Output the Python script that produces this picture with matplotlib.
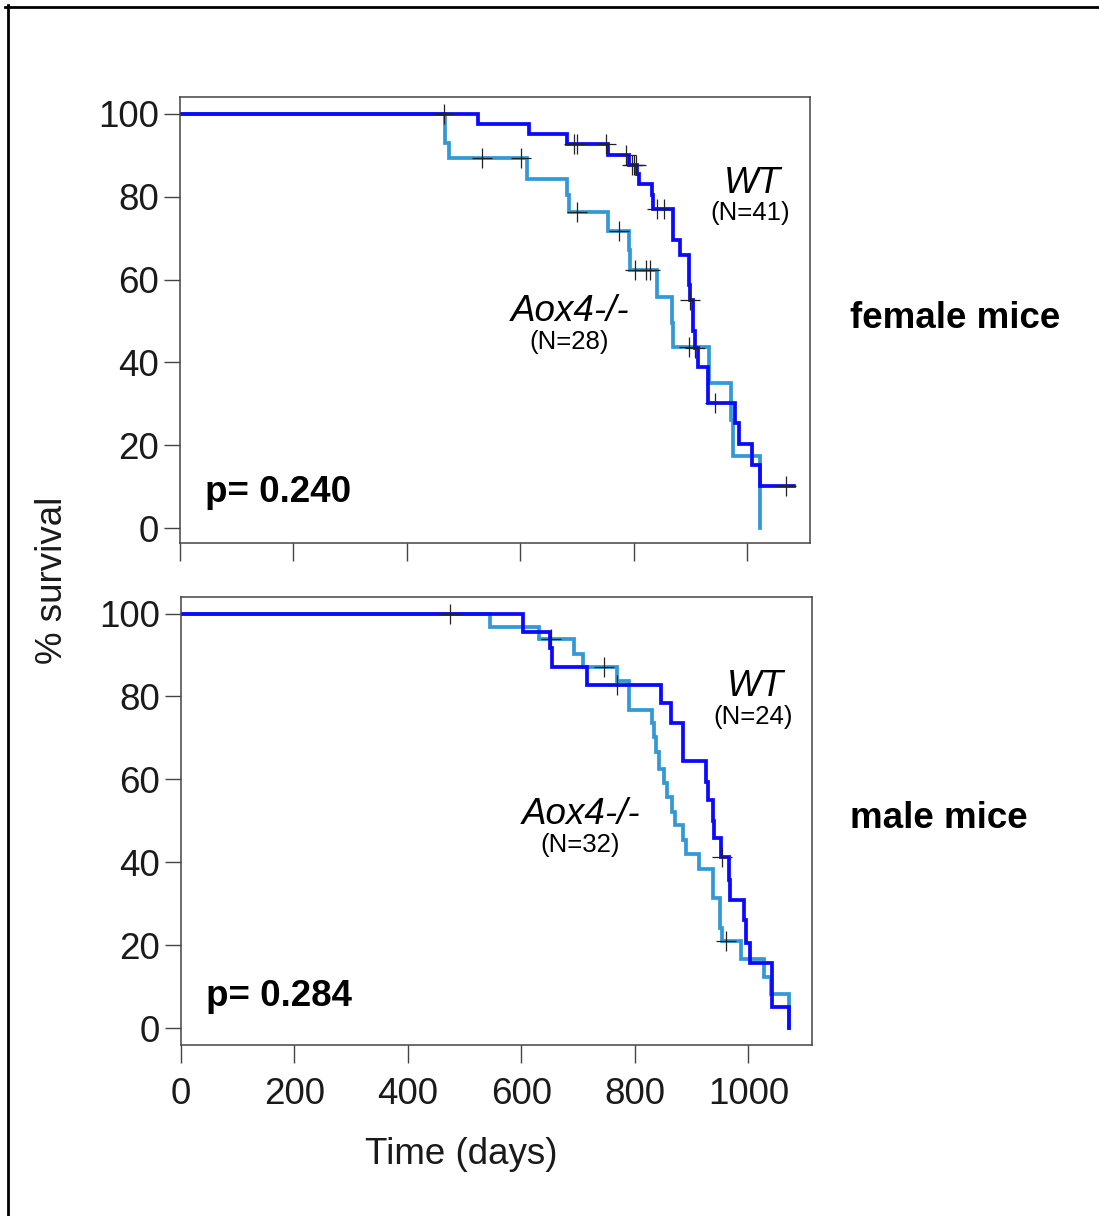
import numpy as np
import matplotlib
matplotlib.use("Agg")
import matplotlib.pyplot as plt
from matplotlib.lines import Line2D

plt.rcParams['font.family'] = ['Liberation Sans', 'DejaVu Sans']

# Kaplan-Meier steps: (time in days, % survival after the step)
# female mice
f_wt_t = [0, 526, 615, 683, 755, 792, 806, 810, 832, 835, 870, 882, 897, 899, 905, 909, 913, 932, 979, 985, 1008, 1022, 1083]
f_wt_s = [100, 97.6, 95.1, 92.7, 90.2, 87.6, 85.4, 83.2, 80.5, 77.0, 69.6, 65.9, 58.7, 55.1, 47.5, 43.6, 39.0, 30.3, 25.3, 20.2, 15.2, 10.2, 10.2]
f_wt_cens = [466, 695, 700, 751, 787, 797, 801, 804, 841, 854, 899, 909, 944, 1069]

f_ko_t = [0, 467, 475, 612, 683, 686, 755, 791, 794, 841, 867, 870, 933, 972, 976, 1023]
f_ko_s = [100, 92.9, 89.3, 84.3, 80.4, 76.3, 71.7, 67.1, 62.3, 55.9, 49.5, 43.8, 35.0, 26.1, 17.4, 0]
f_ko_cens = [533, 601, 700, 775, 802, 822, 828, 897]

# male mice
m_wt_t = [0, 602, 650, 653, 716, 846, 863, 884, 925, 928, 937, 940, 951, 966, 968, 993, 995, 1003, 1041, 1071]
m_wt_s = [100, 95.6, 91.7, 87.0, 82.8, 78.5, 73.7, 64.5, 59.4, 55.0, 50.0, 45.8, 41.3, 35.7, 31.0, 26.1, 20.4, 15.6, 5.1, 0]
m_wt_cens = [474, 769, 953]

m_ko_t = [0, 544, 631, 693, 709, 769, 790, 830, 834, 837, 843, 852, 856, 866, 871, 884, 890, 913, 937, 950, 953, 986, 1028, 1040, 1072]
m_ko_s = [100, 96.7, 93.8, 90.2, 87.2, 83.7, 76.7, 73.5, 70.3, 66.7, 62.6, 59.0, 55.8, 52.2, 49.0, 45.4, 42.0, 38.3, 31.3, 24.1, 21.0, 16.6, 12.4, 8.3, 0]
m_ko_cens = [652, 745, 960]

panels = [
    dict(wt=(f_wt_t, f_wt_s, f_wt_cens), ko=(f_ko_t, f_ko_s, f_ko_cens),
         n_wt="(N=41)", n_ko="(N=28)", p="p= 0.240", sex="female mice",
         wt_pos=(1009, 83.3), ko_pos=(688, 52.2), ylim=(-3.6, 104.1), xlim=(0, 1111)),
    dict(wt=(m_wt_t, m_wt_s, m_wt_cens), ko=(m_ko_t, m_ko_s, m_ko_cens),
         n_wt="(N=24)", n_ko="(N=32)", p="p= 0.284", sex="male mice",
         wt_pos=(1013, 82.3), ko_pos=(705, 51.4), ylim=(-4.1, 104.0), xlim=(0, 1112)),
]

W, H = 1099, 1216
fig = plt.figure(figsize=(W / 100, H / 100), dpi=100)

boxes = [(180, 97, 810, 543), (181, 597, 812, 1045)]
blue = '#0a0aff'
light = '#3399d6'
spine_c = '#444444'
fs = 26.5


def level_at(t, s, ct):
    idx = np.searchsorted(t, ct, side='right') - 1
    return np.array(s)[idx]


for i, (pn, box) in enumerate(zip(panels, boxes)):
    l, top, r, b = box
    ax = fig.add_axes([l / W, 1 - b / H, (r - l) / W, (b - top) / H])

    for key, col in (('ko', light), ('wt', blue)):
        t, s, c = pn[key]
        ax.step(t, s, where='post', color=col, lw=2.7, solid_joinstyle='miter')
    for key in ('ko', 'wt'):
        t, s, c = pn[key]
        ax.plot(c, level_at(t, s, c), ls='none', marker='+', ms=14,
                mew=0.9, color='#222222')

    ax.set_xlim(*pn['xlim'])
    ax.set_ylim(*pn['ylim'])
    ax.set_xticks([0, 200, 400, 600, 800, 1000])
    ax.set_yticks([0, 20, 40, 60, 80, 100])
    ax.tick_params(axis='y', direction='out', length=11.5, width=1.0,
                   color=spine_c, labelsize=fs, pad=3.5, labelcolor='#1a1a1a')
    ax.tick_params(axis='x', direction='out', length=13, width=1.0,
                   color=spine_c, labelsize=fs, pad=10, labelcolor='#1a1a1a')
    if i == 0:
        ax.tick_params(axis='x', labelbottom=False)
    for sp in ax.spines.values():
        sp.set_color(spine_c)
        sp.set_linewidth(1.1)

    x, y = pn['wt_pos']
    ax.text(x, y, "WT", style='italic', fontsize=fs, ha='center', va='center')
    ax.text(x - 4, y - 7.2, pn['n_wt'], fontsize=18.5, ha='center', va='center')
    x, y = pn['ko_pos']
    ax.text(x, y, "Aox4-/-", style='italic', fontsize=fs, ha='center', va='center')
    ax.text(x - 2, y - 7.3, pn['n_ko'], fontsize=18.5, ha='center', va='center')
    ax.text(44, 8.5 if i == 0 else 7.5, pn['p'], fontsize=fs, fontweight='bold',
            ha='left', va='center')

fig.text(850 / W, 1 - 318 / H, "female mice", fontsize=fs, fontweight='bold',
         ha='left', va='center')
fig.text(850 / W, 1 - 819 / H, "male mice", fontsize=fs, fontweight='bold',
         ha='left', va='center')
fig.text(52 / W, 1 - 580 / H, "% survival", fontsize=fs, rotation=90,
         ha='center', va='center', color='#1a1a1a')
fig.text(461 / W, 1 - 1155 / H, "Time (days)", fontsize=fs,
         ha='center', va='center', color='#1a1a1a')

# outer frame: only top and left edges are visible in the crop
fig.add_artist(Line2D([5 / W, 1], [1 - 6.5 / H, 1 - 6.5 / H], color='black', lw=2.0))
fig.add_artist(Line2D([8 / W, 8 / W], [0, 1 - 5 / H], color='black', lw=2.0))

fig.savefig('out.png', dpi=100)
